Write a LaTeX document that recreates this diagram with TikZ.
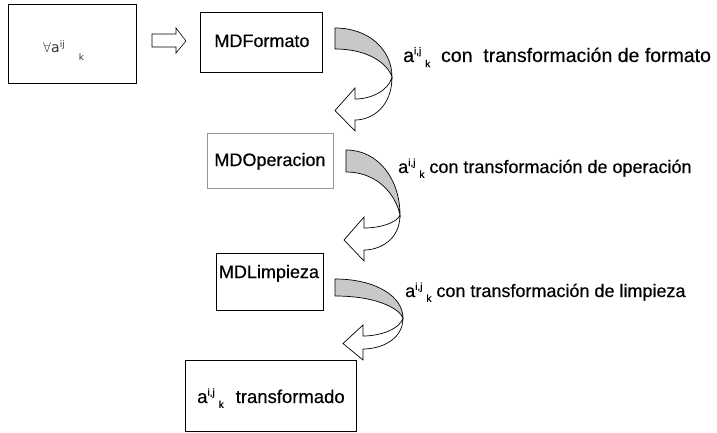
\documentclass[tikz,border=0pt]{standalone}
\usepackage{fontspec}
\setmainfont{Liberation Sans}[FakeBold=0.35]
\newfontfamily\symfont{DejaVu Sans}
\usetikzlibrary{calc}

% a with superscript i,j and a detached subscript k
\newcommand\aijk[1][i,j]{a\raisebox{0.75ex}{\fontsize{10}{10}\selectfont #1}\kern4pt\raisebox{-0.5ex}{\fontsize{10}{10}\selectfont k}}

% curved ribbon arrow: grey back band, white front band with a left-pointing head
% #1 x0  #2 ytop  #3 ybot  #4 xm  #5 ym  #6 xn  #7 yupper-neck  #8 ylower-neck
\newcommand\ribbonarrow[8]{%
  \pgfmathsetmacro\rxa{#4-#1}%
  \pgfmathsetmacro\tipy{(#7+#8)/2+1}%
  \pgfmathsetmacro\tipx{#6-20}%
  \pgfmathsetmacro\bt{#7-11}%
  \pgfmathsetmacro\bb{#8+11}%
  \pgfmathsetmacro\cxa{#1+0.6*\rxa}%
  \pgfmathsetmacro\cya{#5-0.55*(#5-#2)}%
  \pgfmathsetmacro\cyb{#5-0.45*(#5-#3)}%
  \pgfmathsetmacro\cyc{#5+0.7*(#8-#5)}%
  \pgfmathsetmacro\cxc{#6+0.45*(#4-#6)}%
  \pgfmathsetmacro\cyd{#5+0.6*(#7-#5)}%
  \pgfmathsetmacro\cxd{#6+0.45*(#4-#6)}%
  \draw[ribbon, fill=white]
    (#4,#5) .. controls (#4,\cyc) and (\cxc,#8) .. (#6,#8)
    -- (#6,\bb) -- (\tipx,\tipy) -- (#6,\bt) -- (#6,#7)
    .. controls (\cxd,#7) and (#4-3,\cyd) .. (#4,#5);
  \draw[ribbon, fill=ribbongrey]
    (#1,#2) .. controls (\cxa,#2) and (#4,\cya) .. (#4,#5)
    .. controls (#4-4,\cyb) and (\cxa,#3) .. (#1,#3) -- cycle;
}

\definecolor{ribbongrey}{RGB}{200,200,200}
\definecolor{boxgrey}{RGB}{150,150,150}

\begin{document}
\begin{tikzpicture}[x=1pt, y=-1pt,
  box/.style={draw=black, line width=0.8pt, rectangle, inner sep=0pt},
  ribbon/.style={draw=black, line width=0.7pt, line join=miter},
  label/.style={anchor=base west, inner sep=0pt, font=\fontsize{18}{18}\selectfont},
  boxtext/.style={anchor=base, inner sep=0pt, font=\fontsize{18}{18}\selectfont}]
\useasboundingbox (0,0) rectangle (717,433);

% boxes
\node[box, minimum width=128pt, minimum height=79pt] (all) at (72,43.5) {};
\node[box, minimum width=122pt, minimum height=60pt] (fmt) at (261,42) {};
\node[box, draw=boxgrey, minimum width=126pt, minimum height=55pt] (ope) at (270,160.5) {};
\node[box, minimum width=107pt, minimum height=57pt] (lim) at (269.5,281.5) {};
\node[box, minimum width=171pt, minimum height=71pt] (res) at (270.5,395.5) {};

% box texts
\node[anchor=base west, inner sep=0pt, text=black!80, font=\symfont\fontsize{14}{14}\selectfont] (alltxt) at (43,53)
  {$\forall$a\raisebox{0.75ex}{\fontsize{9}{9}\selectfont ij}\kern14pt\raisebox{-1.0ex}{\fontsize{9}{9}\selectfont k}};
\node[boxtext] (fmttxt) at (262,47) {MDFormato};
\node[boxtext] (opetxt) at (270,166) {MDOperacion};
\node[boxtext] (limtxt) at (269,278) {MDLimpieza};
\node[label, font=\fontsize{18.5}{18.5}\selectfont] (restxt) at (197,403) {\aijk\kern12pt transformado};

% hollow arrow between the first two boxes
\draw[ribbon, line width=0.6pt] (152,34) -- (176,34) -- (176,28) -- (186,41) -- (176,53) -- (176,47) -- (152,47) -- cycle;

% curved arrows
\ribbonarrow{335}{28}{49}{392}{77}{355}{99}{120}
\ribbonarrow{346}{150}{172}{400}{215}{364}{228}{250}
\ribbonarrow{335}{279}{296}{403}{318}{363}{336}{349}

% arrow labels
\node[label, font=\fontsize{19.5}{19.5}\selectfont] (l1) at (403,62) {\aijk\ \ con\ \ transformación de formato};
\node[label] (l2) at (398,173) {\aijk\ con transformación de operación};
\node[label] (l3) at (405,297) {\aijk\ con transformación de limpieza};
\end{tikzpicture}
\end{document}
